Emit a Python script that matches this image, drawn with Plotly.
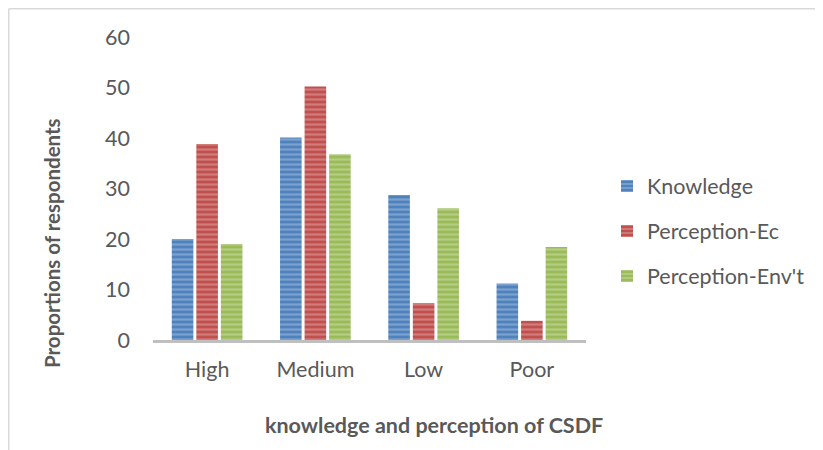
import plotly.graph_objects as go

categories = ["High", "Medium", "Low", "Poor"]
knowledge = [20.0, 40.1, 28.7, 11.2]
perception_ec = [38.8, 50.2, 7.3, 3.8]
perception_env = [19.0, 36.8, 26.1, 18.4]
y_ticks = [0, 10, 20, 30, 40, 50, 60]

# page is offset by 8px (body margin); figure coords = page coords - 8
W, H = 815, 442
L, R, T, B = 145, 237, 29, 110
PW, PH = W - L - R, H - T - B


def px(x):
    return (x - 8 - L) / PW


def py(y):
    return (H - B - (y - 8)) / PH


series = [
    ("Knowledge", knowledge, "#4F81BD", "legend", py(186)),
    ("Perception-Ec", perception_ec, "#C0504D", "legend2", py(231)),
    ("Perception-Env't", perception_env, "#9BBB59", "legend3", py(276)),
]

font_family = "Lato, 'Open Sans', sans-serif"
txt_color = "#595959"
fs = 21.5

fig = go.Figure()
layout_legends = {}
for name, vals, color, lg, ly in series:
    fig.add_trace(go.Bar(
        x=categories, y=vals, name=name, legend=lg,
        marker=dict(color=color, line=dict(width=0),
                    pattern=dict(shape="-", size=5, solidity=0.45,
                                 fgcolor="rgba(255,255,255,0.5)", fillmode="overlay")),
    ))
    layout_legends[lg] = dict(x=px(607), y=ly, xanchor="left", yanchor="middle",
                              font=dict(family=font_family, size=fs, color=txt_color),
                              bgcolor="rgba(0,0,0,0)", itemwidth=30)

fig.update_layout(
    width=W, height=H,
    margin=dict(l=L, r=R, t=T, b=B),
    paper_bgcolor="white", plot_bgcolor="white",
    barmode="group", bargap=0.32, bargroupgap=0.12,
    font=dict(family=font_family, size=fs, color=txt_color),
    showlegend=True,
    **layout_legends,
)
fig.update_xaxes(
    showline=True, linecolor="#BFBFBF", linewidth=3, showgrid=False,
    ticks="", ticklabelstandoff=8,
    tickfont=dict(family=font_family, size=fs, color=txt_color),
)
fig.update_yaxes(
    range=[0, 60], tickvals=y_ticks, showgrid=False, showline=False, zeroline=False,
    ticks="", ticklabelstandoff=22,
    tickfont=dict(family=font_family, size=fs, color=txt_color),
)
fig.add_annotation(text="<b>knowledge and perception of CSDF</b>", xref="paper", yref="paper",
                   x=px(434), y=py(425), showarrow=False,
                   font=dict(family=font_family, size=fs, color=txt_color),
                   xanchor="center", yanchor="middle")
fig.add_annotation(text="<b>Proportions of respondents</b>", xref="paper", yref="paper",
                   x=px(52), y=py(243), showarrow=False, textangle=-90,
                   font=dict(family=font_family, size=20.5, color=txt_color),
                   xanchor="center", yanchor="middle")
# frame lines (left and top)
fx = (0.75 - L) / PW
fy = (H - B - 0.75) / PH
fig.add_shape(type="line", xref="paper", yref="paper",
              x0=fx, x1=fx, y0=fy, y1=(H - B - H) / PH,
              line=dict(color="#D9D9D9", width=1.5))
fig.add_shape(type="line", xref="paper", yref="paper",
              x0=fx, x1=px(820), y0=fy, y1=fy,
              line=dict(color="#D9D9D9", width=1.5))
fig.write_html("out.html")
